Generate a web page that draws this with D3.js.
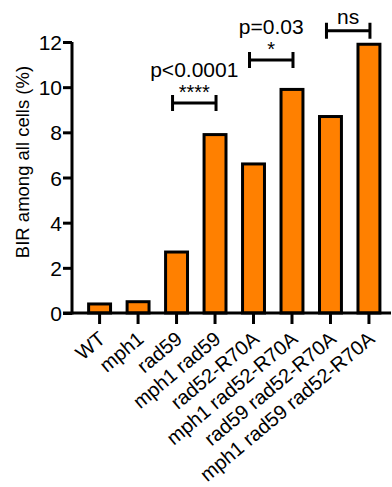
<!DOCTYPE html>
<html>
<head>
<meta charset="utf-8">
<script src="https://cdn.jsdelivr.net/npm/d3@7"></script>
<style>
  body { margin: 0; background: #fff; }
  text { font-family: "Liberation Sans", Arial, sans-serif; fill: #000; }
</style>
</head>
<body>
<svg width="392" height="487"></svg>
<script>
var strains = ["WT", "mph1", "rad59", "mph1 rad59", "rad52-R70A", "mph1 rad52-R70A", "rad59 rad52-R70A", "mph1 rad59 rad52-R70A"];
var birValues = [0.4, 0.5, 2.7, 7.9, 6.6, 9.9, 8.7, 11.9];
var yTicks = [0, 2, 4, 6, 8, 10, 12];
var comparisons = [
	{ from: "rad59", to: "mph1 rad59", p: "p<0.0001", stars: "****", level: 9.3 },
	{ from: "rad52-R70A", to: "mph1 rad52-R70A", p: "p=0.03", stars: "*", level: 11.2 },
	{ from: "rad59 rad52-R70A", to: "mph1 rad59 rad52-R70A", p: "", stars: "ns", level: 12.5 }
];

var svg = d3.select("svg");
var x0 = 72, x1 = 391, yTop = 42, yBottom = 313;

var x = d3.scaleBand()
	.domain(strains)
	.range([x0, x1])
	.paddingInner(0.43)
	.paddingOuter(0.36)
	.align(0.6);

var y = d3.scaleLinear().domain([0, 12]).range([yBottom, yTop]);

// bars
svg.append("g").selectAll("rect")
	.data(strains)
	.enter().append("rect")
	.attr("x", function(d) { return x(d); })
	.attr("width", x.bandwidth())
	.attr("y", function(d, i) { return y(birValues[i]); })
	.attr("height", function(d, i) { return y(0) - y(birValues[i]); })
	.attr("fill", "#ff8000")
	.attr("stroke", "#000")
	.attr("stroke-width", 3);

// y axis
var yAxis = svg.append("g")
	.attr("transform", "translate(" + x0 + ",0)")
	.call(d3.axisLeft(y).tickValues(yTicks).tickSize(9).tickPadding(1).tickFormat(d3.format("d")));
yAxis.select(".domain").attr("stroke-width", 3).attr("d", "M0," + (yBottom + 1.5) + "V" + yTop);
yAxis.selectAll(".tick line").attr("stroke-width", 3);
yAxis.selectAll(".tick text").style("font-size", "21px").attr("font-family", null).attr("dy", "0.36em");

// x axis
var xAxis = svg.append("g")
	.attr("transform", "translate(0," + yBottom + ")")
	.call(d3.axisBottom(x).tickSize(11).tickSizeOuter(0));
xAxis.select(".domain").attr("stroke-width", 3).attr("d", "M" + (x0 - 9) + ",0H" + x1);
xAxis.selectAll(".tick line").attr("stroke-width", 3);
xAxis.selectAll(".tick text")
	.attr("font-family", null)
	.style("font-size", "20px")
	.attr("text-anchor", "end")
	.attr("dy", null)
	.attr("y", 0)
	.attr("transform", "translate(7,28) rotate(-40)");

// y label
svg.append("text")
	.attr("transform", "translate(29,162) rotate(-90)")
	.attr("text-anchor", "middle")
	.style("font-size", "18.5px")
	.text("BIR among all cells (%)");

// significance brackets
var sig = svg.append("g");
comparisons.forEach(function(c) {
	var xa = x(c.from) + x.bandwidth() / 2 - 4;
	var xb = x(c.to) + x.bandwidth() / 2 + 1;
	var yl = y(c.level);
	sig.append("path")
		.attr("d", "M" + xa + "," + (yl - 8) + "V" + (yl + 8) + "M" + xa + "," + yl + "H" + xb + "M" + xb + "," + (yl - 8) + "V" + (yl + 8))
		.attr("fill", "none")
		.attr("stroke", "#000")
		.attr("stroke-width", 3);
	var xm = (xa + xb) / 2;
	if (c.stars === "ns") {
		sig.append("text").attr("x", xm).attr("y", yl - 7).attr("text-anchor", "middle")
			.style("font-size", "21px").text(c.stars);
	} else {
		sig.append("text").attr("x", xm).attr("y", yl - 4).attr("text-anchor", "middle")
			.style("font-size", "20px").text(c.stars);
		sig.append("text").attr("x", xm).attr("y", yl - 26).attr("text-anchor", "middle")
			.style("font-size", "21px").text(c.p);
	}
});
</script>
</body>
</html>
